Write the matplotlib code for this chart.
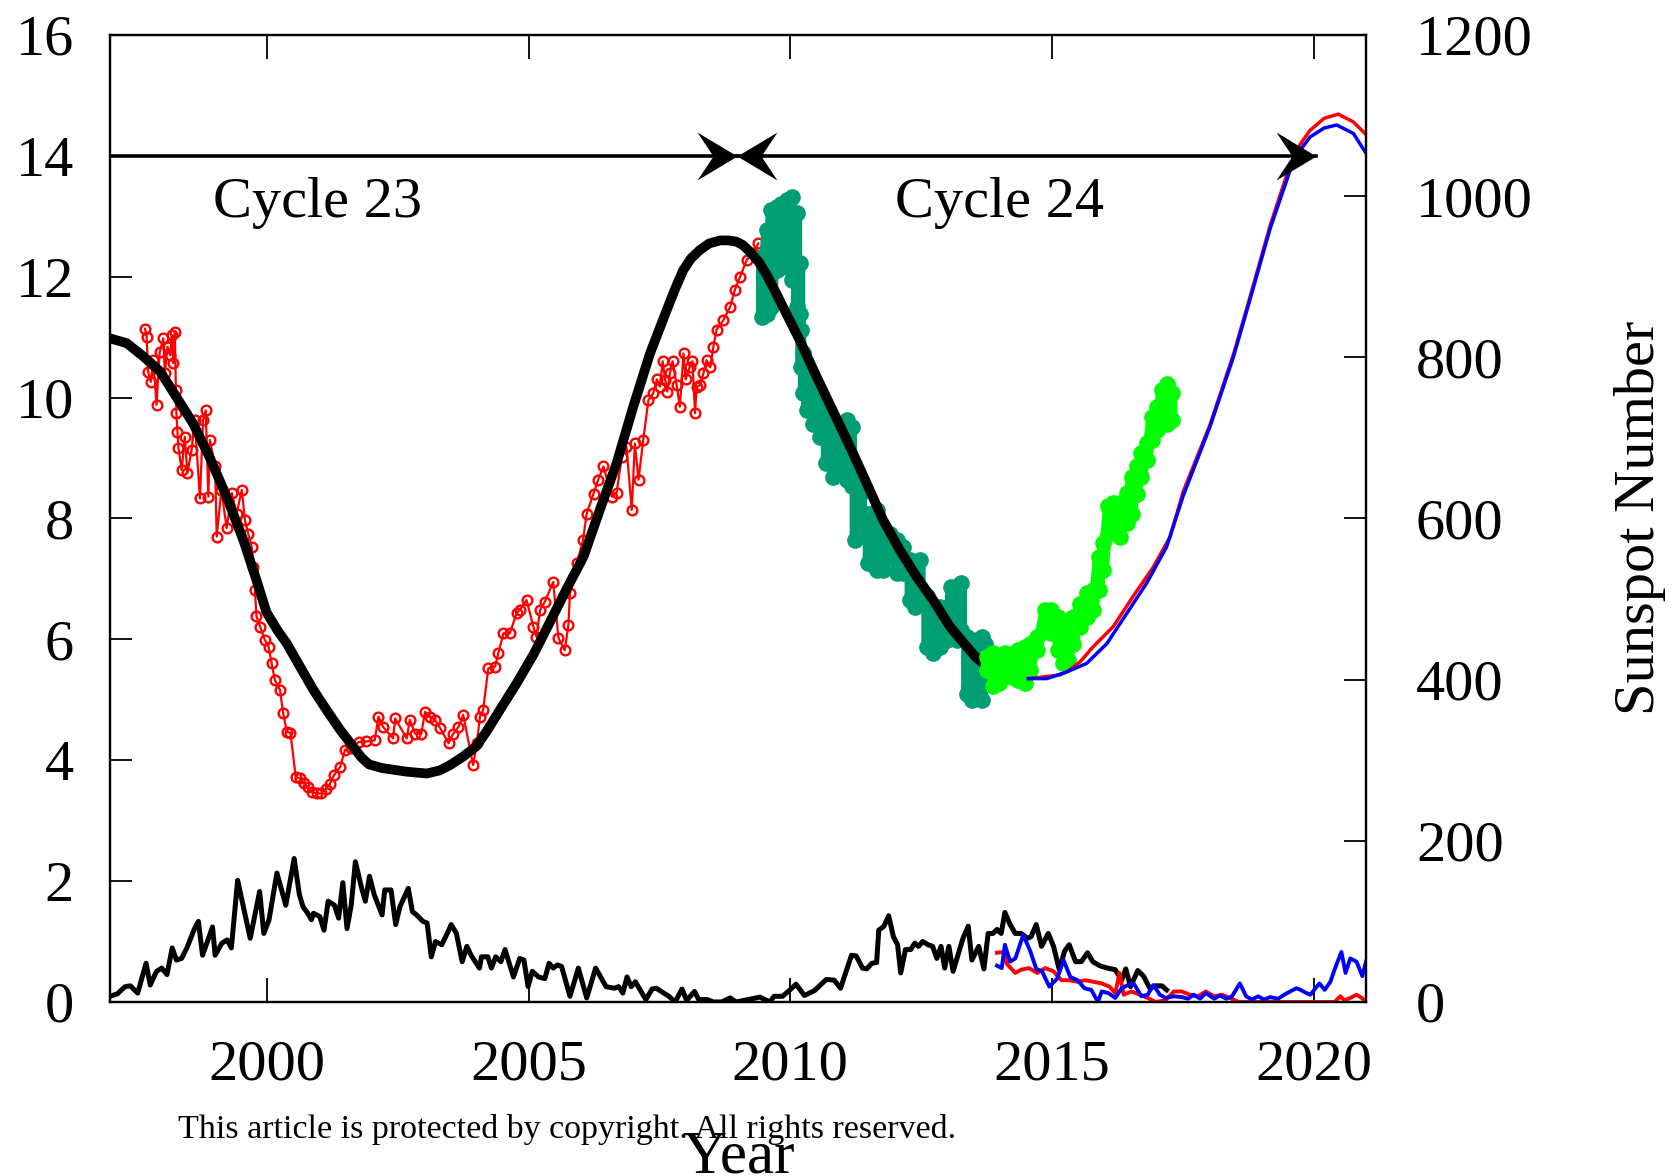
import numpy as np
import matplotlib
matplotlib.use("Agg")
import matplotlib.pyplot as plt
from matplotlib.path import Path

plt.rcParams['font.family'] = ['Liberation Serif', 'DejaVu Serif']

# ---- data (year, value) ----
# red open circles, left axis
red_pts = [(1997.67, 11.14), (1997.70, 11.01), (1997.73, 10.43), (1997.78, 10.26), (1997.83, 10.62),
           (1997.89, 9.88), (1997.95, 10.75), (1998.02, 10.98), (1998.05, 10.40), (1998.10, 10.84),
           (1998.15, 10.70), (1998.18, 11.03), (1998.21, 10.57), (1998.24, 11.09), (1998.26, 10.12),
           (1998.27, 9.74), (1998.29, 9.43), (1998.31, 9.16), (1998.37, 8.80), (1998.43, 9.35),
           (1998.48, 8.75), (1998.56, 9.13), (1998.62, 9.63), (1998.72, 8.33), (1998.78, 9.63),
           (1998.83, 9.79), (1998.88, 8.36), (1998.91, 9.30), (1999.01, 8.86), (1999.04, 7.70),
           (1999.13, 8.47), (1999.23, 7.84), (1999.33, 8.42), (1999.42, 8.08), (1999.52, 8.47),
           (1999.58, 7.97), (1999.64, 7.75), (1999.71, 7.53), (1999.74, 7.20), (1999.77, 6.82),
           (1999.80, 6.38), (1999.87, 6.21), (1999.96, 5.99), (2000.03, 5.88), (2000.09, 5.60),
           (2000.15, 5.33), (2000.25, 5.16), (2000.31, 4.78), (2000.38, 4.47), (2000.45, 4.45),
           (2000.55, 3.72), (2000.63, 3.70), (2000.70, 3.62), (2000.78, 3.55), (2000.87, 3.47),
           (2000.95, 3.45), (2001.04, 3.45), (2001.12, 3.52), (2001.20, 3.60), (2001.28, 3.75),
           (2001.40, 3.89), (2001.49, 4.17), (2001.60, 4.20), (2001.75, 4.30), (2001.90, 4.31),
           (2002.06, 4.33), (2002.13, 4.72), (2002.22, 4.55), (2002.41, 4.36), (2002.45, 4.69),
           (2002.67, 4.36), (2002.73, 4.67), (2002.83, 4.44), (2002.95, 4.44), (2003.02, 4.80),
           (2003.11, 4.72), (2003.21, 4.67), (2003.31, 4.53), (2003.47, 4.28), (2003.56, 4.44),
           (2003.66, 4.55), (2003.75, 4.75), (2003.94, 3.92), (2004.01, 4.28), (2004.07, 4.72),
           (2004.13, 4.83), (2004.23, 5.52), (2004.36, 5.55), (2004.42, 5.77), (2004.52, 6.10),
           (2004.64, 6.10), (2004.77, 6.43), (2004.83, 6.49), (2004.96, 6.65), (2005.09, 6.21),
           (2005.15, 6.04), (2005.22, 6.49), (2005.31, 6.62), (2005.47, 6.95), (2005.57, 6.02),
           (2005.69, 5.82), (2005.76, 6.24), (2005.79, 6.76), (2005.92, 7.26), (2006.04, 7.64),
           (2006.11, 8.08), (2006.24, 8.41), (2006.33, 8.64), (2006.43, 8.86), (2006.59, 8.36),
           (2006.68, 8.42), (2006.78, 9.02), (2006.87, 9.19), (2006.97, 8.14), (2007.03, 9.24),
           (2007.10, 8.64), (2007.19, 9.30), (2007.29, 9.96), (2007.38, 10.07), (2007.45, 10.30),
           (2007.51, 10.18), (2007.56, 10.60), (2007.61, 10.29), (2007.65, 10.10), (2007.70, 10.40),
           (2007.75, 10.60), (2007.83, 10.20), (2007.89, 9.85), (2007.96, 10.73), (2008.00, 10.30),
           (2008.08, 10.51), (2008.13, 10.60), (2008.18, 9.74), (2008.21, 10.18), (2008.27, 10.20),
           (2008.34, 10.40), (2008.40, 10.62), (2008.47, 10.50), (2008.53, 10.84), (2008.59, 11.12),
           (2008.72, 11.28), (2008.85, 11.50), (2008.94, 11.78), (2009.04, 12.00), (2009.17, 12.28),
           (2009.29, 12.39), (2009.39, 12.55)]

# teal band: year, upper, lower
teal_pts = [(2009.45, 12.33, 11.34), (2009.55, 12.77, 11.39), (2009.64, 13.10, 11.50), (2009.74, 13.16, 12.11),
            (2009.83, 13.21, 12.22), (2009.93, 13.27, 12.16), (2010.03, 13.32, 11.94), (2010.12, 13.05, 11.50),
            (2010.18, 12.22, 11.39), (2010.20, 11.12, 10.51), (2010.25, 10.73, 10.07), (2010.31, 10.40, 9.79),
            (2010.44, 10.18, 9.57), (2010.57, 9.96, 9.35), (2010.69, 9.79, 8.91), (2010.82, 9.52, 8.69),
            (2010.95, 9.41, 8.75), (2011.08, 9.63, 8.64), (2011.17, 9.52, 8.53), (2011.24, 8.64, 7.64),
            (2011.36, 8.42, 7.75), (2011.49, 8.08, 7.26), (2011.65, 8.14, 7.15), (2011.78, 7.86, 7.15),
            (2011.90, 7.75, 7.37), (2012.03, 7.64, 7.09), (2012.16, 7.53, 7.09), (2012.29, 7.31, 6.65),
            (2012.38, 7.26, 6.54), (2012.48, 7.31, 6.65), (2012.61, 6.71, 5.88), (2012.73, 6.43, 5.77),
            (2012.86, 6.54, 5.88), (2012.99, 6.43, 5.99), (2013.08, 6.87, 6.21), (2013.18, 6.87, 5.99),
            (2013.27, 6.93, 6.15), (2013.37, 6.04, 5.10), (2013.47, 5.93, 5.00), (2013.56, 5.99, 5.05),
            (2013.66, 6.04, 5.00), (2013.72, 5.93, 5.55)]

# bright green band: year, upper, lower
green_pts = [(2013.75, 5.71, 5.49), (2013.88, 5.77, 5.22), (2013.98, 5.66, 5.27), (2014.10, 5.77, 5.49),
             (2014.23, 5.71, 5.38), (2014.36, 5.82, 5.33), (2014.49, 5.88, 5.27), (2014.58, 5.93, 5.49),
             (2014.71, 6.04, 5.82), (2014.87, 6.48, 6.21), (2014.99, 6.48, 6.10), (2015.12, 6.37, 5.82),
             (2015.22, 6.04, 5.60), (2015.31, 6.26, 5.66), (2015.41, 6.37, 5.93), (2015.54, 6.59, 6.21),
             (2015.66, 6.76, 6.37), (2015.79, 6.82, 6.48), (2015.89, 7.37, 6.82), (2015.98, 7.59, 7.15),
             (2016.08, 8.20, 7.75), (2016.17, 8.25, 7.81), (2016.30, 8.25, 7.70), (2016.43, 8.42, 7.92),
             (2016.52, 8.69, 8.08), (2016.62, 8.86, 8.41), (2016.71, 9.08, 8.69), (2016.81, 9.24, 8.97),
             (2016.91, 9.68, 9.30), (2017.00, 9.85, 9.46), (2017.10, 10.12, 9.68), (2017.19, 10.23, 9.57),
             (2017.29, 10.07, 9.63)]

# thick black smoothed curve, left axis
smooth_pts = [(1997.00, 10.98), (1997.32, 10.90), (1997.64, 10.68), (1997.96, 10.43), (1998.27, 10.01),
              (1998.59, 9.57), (1998.90, 9.02), (1999.23, 8.36), (1999.55, 7.64), (1999.80, 6.98),
              (1999.99, 6.45), (2000.20, 6.15), (2000.38, 5.93), (2000.63, 5.55), (2000.89, 5.16),
              (2001.14, 4.83), (2001.40, 4.50), (2001.65, 4.22), (2001.80, 4.05), (2001.95, 3.93),
              (2002.20, 3.87), (2002.67, 3.81), (2003.05, 3.78), (2003.30, 3.83), (2003.50, 3.92),
              (2003.75, 4.06), (2004.00, 4.23), (2004.20, 4.48), (2004.45, 4.83), (2004.77, 5.27),
              (2005.10, 5.76), (2005.41, 6.29), (2005.73, 6.84), (2006.05, 7.37), (2006.36, 8.14),
              (2006.68, 8.91), (2007.00, 9.85), (2007.32, 10.73), (2007.64, 11.45), (2007.80, 11.80),
              (2007.95, 12.10), (2008.10, 12.30), (2008.27, 12.44), (2008.45, 12.55), (2008.66, 12.60),
              (2008.82, 12.60), (2008.97, 12.58), (2009.10, 12.52), (2009.23, 12.41), (2009.40, 12.24),
              (2009.55, 12.03), (2009.70, 11.78), (2009.86, 11.50), (2010.18, 10.95), (2010.50, 10.35),
              (2010.82, 9.77), (2011.14, 9.19), (2011.46, 8.58), (2011.77, 7.98), (2012.09, 7.48),
              (2012.41, 7.04), (2012.73, 6.65), (2013.05, 6.21), (2013.37, 5.88), (2013.55, 5.70),
              (2013.69, 5.60), (2013.85, 5.50), (2014.00, 5.43), (2014.30, 5.38)]

# predicted curves, left axis
pred_red = [(2014.55, 5.35), (2015.15, 5.41), (2015.30, 5.47), (2015.54, 5.63), (2015.79, 5.88),
            (2016.17, 6.21), (2016.55, 6.71), (2016.94, 7.20), (2017.26, 7.70), (2017.51, 8.45),
            (2018.02, 9.55), (2018.47, 10.72), (2018.78, 11.65), (2019.17, 12.85), (2019.55, 13.85),
            (2019.75, 14.20), (2019.93, 14.42), (2020.20, 14.62), (2020.47, 14.69), (2020.76, 14.56),
            (2020.98, 14.37)]
pred_blue = [(2014.55, 5.35), (2014.90, 5.35), (2015.28, 5.46), (2015.66, 5.60), (2016.05, 5.93),
             (2016.43, 6.43), (2016.81, 6.93), (2017.19, 7.53), (2017.51, 8.38), (2018.02, 9.52),
             (2018.47, 10.68), (2018.78, 11.61), (2019.17, 12.80), (2019.55, 13.76), (2019.75, 14.10),
             (2019.93, 14.31), (2020.20, 14.46), (2020.44, 14.51), (2020.76, 14.37), (2020.98, 14.07)]

# monthly sunspot number, right axis
ssn_pts = [(1997.00, 7), (1997.14, 10), (1997.29, 19), (1997.39, 20), (1997.53, 11), (1997.69, 48),
           (1997.77, 21), (1997.89, 38), (1997.99, 42), (1998.09, 34), (1998.19, 67), (1998.27, 52),
           (1998.37, 54), (1998.47, 67), (1998.61, 90), (1998.69, 100), (1998.77, 58), (1998.96, 93),
           (1999.01, 58), (1999.14, 73), (1999.24, 77), (1999.32, 67), (1999.44, 151), (1999.68, 79),
           (1999.86, 137), (1999.94, 85), (2000.04, 102), (2000.19, 160), (2000.36, 120), (2000.52, 178),
           (2000.62, 133), (2000.69, 118), (2000.78, 110), (2000.85, 102), (2000.89, 110), (2001.01, 106),
           (2001.09, 89), (2001.17, 125), (2001.29, 120), (2001.37, 104), (2001.45, 148), (2001.53, 91),
           (2001.61, 120), (2001.69, 174), (2001.81, 141), (2001.88, 125), (2001.96, 156), (2002.05, 133),
           (2002.20, 108), (2002.25, 139), (2002.37, 139), (2002.46, 96), (2002.54, 118), (2002.70, 141),
           (2002.78, 112), (2002.86, 108), (2002.98, 100), (2003.06, 98), (2003.14, 56), (2003.22, 75),
           (2003.34, 71), (2003.46, 87), (2003.52, 96), (2003.62, 85), (2003.73, 50), (2003.82, 69),
           (2003.90, 58), (2004.06, 42), (2004.10, 56), (2004.22, 56), (2004.29, 42), (2004.37, 56),
           (2004.47, 50), (2004.55, 65), (2004.71, 31), (2004.83, 54), (2004.91, 52), (2004.99, 19),
           (2005.07, 38), (2005.19, 31), (2005.31, 29), (2005.39, 48), (2005.47, 42), (2005.55, 46),
           (2005.63, 44), (2005.79, 7), (2005.95, 42), (2006.11, 5), (2006.28, 42), (2006.48, 19),
           (2006.64, 17), (2006.72, 19), (2006.80, 11), (2006.88, 31), (2006.96, 19), (2007.04, 25),
           (2007.24, 3), (2007.36, 16), (2007.44, 17), (2007.68, 7), (2007.80, 0), (2007.93, 16),
           (2008.02, 2), (2008.17, 13), (2008.25, 3), (2008.41, 3), (2008.53, 0), (2008.69, 0),
           (2008.85, 5), (2008.97, 0), (2009.19, 3), (2009.42, 6), (2009.61, 0), (2009.69, 7),
           (2009.85, 7), (2009.96, 13), (2010.11, 22), (2010.27, 8), (2010.46, 14), (2010.69, 28),
           (2010.84, 27), (2010.96, 17), (2011.17, 58), (2011.26, 57), (2011.38, 42), (2011.46, 41),
           (2011.56, 48), (2011.65, 49), (2011.69, 89), (2011.79, 94), (2011.88, 107), (2011.97, 81),
           (2012.05, 71), (2012.11, 36), (2012.20, 65), (2012.30, 65), (2012.38, 73), (2012.45, 69),
           (2012.53, 75), (2012.63, 71), (2012.72, 69), (2012.80, 54), (2012.88, 69), (2012.95, 42),
           (2013.03, 69), (2013.11, 38), (2013.30, 79), (2013.40, 94), (2013.47, 52), (2013.60, 69),
           (2013.70, 41), (2013.78, 85), (2013.87, 85), (2013.95, 90), (2014.03, 85), (2014.10, 111),
           (2014.20, 96), (2014.30, 85), (2014.41, 85), (2014.53, 79), (2014.60, 81), (2014.70, 96),
           (2014.80, 69), (2014.93, 85), (2015.03, 69), (2015.14, 40), (2015.24, 63), (2015.33, 71),
           (2015.45, 50), (2015.56, 50), (2015.68, 61), (2015.78, 50), (2015.91, 45), (2016.06, 42),
           (2016.21, 40), (2016.33, 27), (2016.41, 41), (2016.50, 19), (2016.64, 39), (2016.75, 32),
           (2016.87, 17), (2016.98, 20), (2017.10, 20), (2017.19, 15)]

ssn_red = [(2013.95, 61), (2014.07, 62), (2014.14, 47), (2014.30, 36), (2014.41, 40), (2014.56, 42),
           (2014.72, 36), (2014.87, 42), (2015.03, 38), (2015.18, 27), (2015.33, 27), (2015.49, 25),
           (2015.64, 27), (2015.79, 25), (2015.95, 23), (2016.10, 19), (2016.21, 11), (2016.29, 36),
           (2016.37, 9), (2016.52, 13), (2016.68, 9), (2016.83, 5), (2016.98, 0), (2017.17, 2),
           (2017.33, 13), (2017.48, 13), (2017.63, 9), (2017.79, 7), (2017.94, 13), (2018.10, 7),
           (2018.25, 9), (2018.40, 5), (2018.56, 0), (2018.71, 0), (2019.02, 0), (2019.78, 0),
           (2020.40, 0), (2020.51, 7), (2020.59, 2), (2020.70, 5), (2020.82, 9), (2020.92, 5),
           (2020.99, 1)]

ssn_blue = [(2013.95, 45), (2014.04, 42), (2014.10, 71), (2014.20, 50), (2014.30, 54), (2014.45, 83),
            (2014.58, 64), (2014.70, 41), (2014.81, 38), (2014.95, 19), (2015.10, 29), (2015.22, 52),
            (2015.35, 31), (2015.49, 27), (2015.62, 17), (2015.75, 15), (2015.88, 0), (2015.95, 13),
            (2016.08, 11), (2016.21, 5), (2016.33, 17), (2016.45, 21), (2016.56, 23), (2016.71, 7),
            (2016.83, 9), (2016.94, 21), (2017.06, 9), (2017.17, 5), (2017.33, 7), (2017.48, 6),
            (2017.60, 4), (2017.71, 9), (2017.83, 4), (2017.94, 11), (2018.10, 4), (2018.21, 8),
            (2018.33, 4), (2018.44, 7), (2018.59, 23), (2018.71, 7), (2018.82, 3), (2018.94, 7),
            (2019.05, 3), (2019.17, 6), (2019.32, 4), (2019.44, 9), (2019.55, 13), (2019.67, 17),
            (2019.75, 15), (2019.86, 11), (2019.94, 9), (2020.01, 15), (2020.11, 23), (2020.21, 15),
            (2020.32, 25), (2020.41, 42), (2020.53, 62), (2020.61, 36), (2020.70, 54), (2020.82, 50),
            (2020.93, 32), (2021.00, 50)]

# cycle markers
CYCLE_Y = 14.0
C23_START, C24_START, C24_END = 1997.0, 2008.98, 2020.05
labels = [("Cycle 23", 2000.97, 12.98), ("Cycle 24", 2014.0, 12.98)]

TEAL = "#009E73"
GREEN = "#00FF00"
FS = 42


def xy(pts):
    a = np.array(pts, dtype=float)
    return a[:, 0], a[:, 1]


def band(pts):
    a = np.array(pts, dtype=float)
    return np.repeat(a[:, 0], 2), a[:, 1:].ravel()


def head(sign):
    # gnuplot-like concave arrow head, tip at the origin
    v = [(0, 0), (-sign * 40, 24), (-sign * 24, 0), (-sign * 40, -24), (0, 0)]
    return Path(v, [Path.MOVETO, Path.LINETO, Path.LINETO, Path.LINETO, Path.CLOSEPOLY])


fig = plt.figure(figsize=(16.81, 11.76), dpi=100)
ax = fig.add_axes([0.0654, 0.148, 0.7472, 0.8223])
ax2 = ax.twinx()

x, y = xy(red_pts)
ax.plot(x, y, "-o", color="red", lw=1.6, ms=7, mfc="none", mec="red", mew=1.7, zorder=2)

x, y = band(teal_pts)
ax.plot(x, y, "-o", color=TEAL, lw=8, ms=11, solid_joinstyle="round", zorder=3)

x, y = xy(smooth_pts)
ax.plot(x, y, "-", color="black", lw=7, solid_joinstyle="round", solid_capstyle="round", zorder=4)

x, y = band(green_pts)
ax.plot(x, y, "-o", color=GREEN, lw=8, ms=11, solid_joinstyle="round", zorder=5)

x, y = xy(pred_red)
ax.plot(x, y, "-", color="red", lw=2.5, zorder=6)
x, y = xy(pred_blue)
ax.plot(x, y, "-", color="blue", lw=2.5, zorder=7)

# cycle arrows
ax.plot([C23_START, C24_START], [CYCLE_Y, CYCLE_Y], color="black", lw=2.6, zorder=8)
ax.plot([C24_START, C24_END], [CYCLE_Y, CYCLE_Y], color="black", lw=2.6, zorder=8)
for xt, s in [(C24_START, 1), (C24_START, -1), (C24_END, 1)]:
    ax.plot([xt], [CYCLE_Y], linestyle="none", marker=head(s), ms=57.6, color="black",
            mew=0, zorder=9, clip_on=False)
for txt, xt, yt in labels:
    ax.text(xt, yt, txt, ha="center", va="baseline", fontsize=FS)

x, y = xy(ssn_pts)
ax2.plot(x, y, "-", color="black", lw=3.6)
x, y = xy(ssn_red)
ax2.plot(x, y, "-", color="red", lw=2.8)
x, y = xy(ssn_blue)
ax2.plot(x, y, "-", color="blue", lw=2.8)

ax.set_xlim(1997, 2021)
ax.set_ylim(0, 16)
ax2.set_ylim(0, 1200)
ax.set_xticks([2000, 2005, 2010, 2015, 2020])
ax.set_yticks(np.arange(0, 17, 2))
ax2.set_yticks(np.arange(0, 1201, 200))

ax.tick_params(axis="x", direction="in", length=17, width=1.3, top=True, labelsize=FS, pad=27)
ax.tick_params(axis="y", direction="in", length=16, width=1.3, labelsize=FS, pad=26)
ax2.tick_params(axis="y", direction="in", length=16, width=1.3, labelsize=FS, pad=36)
for a in (ax, ax2):
    for sp in a.spines.values():
        sp.set_linewidth(1.6)

fig.text(1640 / 1681, 0.56, "Sunspot Number", rotation=90, ha="center", va="center", fontsize=FS)
fig.text(0.4393, 0.003, "Year", ha="center", va="baseline", fontsize=44)
fig.text(0.106, 0.032, "This article is protected by copyright. All rights reserved.",
         ha="left", va="baseline", fontsize=24.5)

fig.savefig("out.png", dpi=100)
